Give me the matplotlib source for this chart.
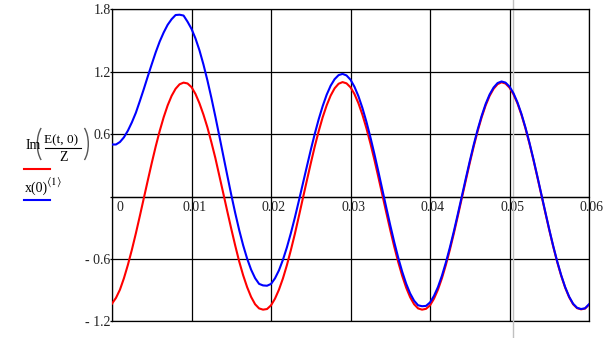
import numpy as np
import matplotlib.pyplot as plt
from matplotlib.lines import Line2D
from matplotlib.patches import Arc
from matplotlib.transforms import ScaledTranslation

plt.rcParams['font.family'] = ['Liberation Serif', 'DejaVu Serif']
plt.rcParams['mathtext.fontset'] = 'stix'

# time axis in seconds, 0.5 ms steps
t = np.linspace(0, 0.06, 121)

# Im(E(t,0)/Z)  (red)
e_im = [-1.03, -0.975, -0.896, -0.786, -0.657, -0.512, -0.355, -0.188, -0.017, 0.154,
        0.322, 0.482, 0.630, 0.762, 0.876, 0.968, 1.036, 1.079, 1.095, 1.087,
        1.052, 0.986, 0.896, 0.788, 0.665, 0.522, 0.370, 0.200, 0.030, -0.142,
        -0.310, -0.472, -0.625, -0.758, -0.872, -0.966, -1.036, -1.076, -1.088, -1.082,
        -1.047, -0.983, -0.896, -0.788, -0.660, -0.515, -0.360, -0.192, -0.020, 0.150,
        0.318, 0.480, 0.628, 0.762, 0.876, 0.970, 1.040, 1.084, 1.100, 1.088,
        1.050, 0.985, 0.896, 0.786, 0.657, 0.512, 0.355, 0.188, 0.017, -0.154,
        -0.322, -0.482, -0.630, -0.762, -0.876, -0.968, -1.036, -1.076, -1.088, -1.080,
        -1.047, -0.983, -0.896, -0.786, -0.657, -0.512, -0.355, -0.188, -0.017, 0.154,
        0.322, 0.482, 0.630, 0.762, 0.876, 0.968, 1.036, 1.080, 1.098, 1.086,
        1.047, 0.983, 0.896, 0.786, 0.657, 0.512, 0.355, 0.188, 0.017, -0.154,
        -0.322, -0.482, -0.630, -0.762, -0.876, -0.968, -1.036, -1.074, -1.085, -1.078,
        -1.040]

# x(0)<1>  (blue)
x01 = [0.50, 0.500, 0.524, 0.569, 0.633, 0.713, 0.805, 0.917, 1.033, 1.154,
       1.272, 1.387, 1.49, 1.577, 1.651, 1.705, 1.745, 1.748, 1.74, 1.681,
       1.612, 1.52, 1.406, 1.27, 1.117, 0.949, 0.769, 0.582, 0.392, 0.203,
       0.017, -0.159, -0.323, -0.47, -0.598, -0.704, -0.785, -0.84, -0.855, -0.858,
       -0.841, -0.787, -0.71, -0.609, -0.489, -0.352, -0.203, -0.043, 0.121, 0.285,
       0.447, 0.601, 0.743, 0.869, 0.978, 1.065, 1.128, 1.167, 1.179, 1.164,
       1.123, 1.055, 0.964, 0.851, 0.719, 0.571, 0.411, 0.242, 0.068, -0.106,
       -0.276, -0.438, -0.588, -0.722, -0.838, -0.932, -1.002, -1.046, -1.055, -1.052,
       -1.019, -0.956, -0.871, -0.762, -0.634, -0.49, -0.335, -0.169, 0.001, 0.172,
       0.339, 0.498, 0.645, 0.776, 0.890, 0.981, 1.048, 1.091, 1.106, 1.095,
       1.057, 0.993, 0.905, 0.795, 0.665, 0.52, 0.362, 0.195, 0.024, -0.147,
       -0.316, -0.476, -0.624, -0.756, -0.871, -0.963, -1.031, -1.07, -1.082, -1.075,
       -1.036]

xticks = [0, 0.01, 0.02, 0.03, 0.04, 0.05, 0.06]
xlabels = ['0', '0.01', '0.02', '0.03', '0.04', '0.05', '0.06']
yticks = [-1.2, -0.6, 0, 0.6, 1.2, 1.8]
ylabels = ['- 1.2', '- 0.6', '', '0.6', '1.2', '1.8']
cursor_t = 0.0504

W, H = 609, 338
fig = plt.figure(figsize=(W / 100, H / 100), dpi=100)
ax = fig.add_axes([112 / W, 1 - 321.3 / H, 477 / W, 312 / H])


def fx(px):
    return px / W


def fy(py):
    return 1 - py / H


ax.plot(t, e_im, color='#ff0000', lw=1.5, zorder=3)
ax.plot(t, x01, color='#0000ff', lw=1.5, zorder=4)
ax.axvline(cursor_t, ymin=-0.06, ymax=1.04, color='#c0c0c0', lw=1,
           clip_on=False, zorder=2.5)

ax.set_xlim(0, 0.06)
ax.set_ylim(-1.2, 1.8)
ax.set_xticks(xticks)
ax.set_xticklabels(xlabels)
ax.set_yticks(yticks)
ax.set_yticklabels(ylabels)
ax.grid(True, color='black', lw=0.9)
ax.set_axisbelow(True)

ax.spines['bottom'].set_position(('data', 0))
for s in ax.spines.values():
    s.set_linewidth(0.9)
ax.axhline(-1.2, color='black', lw=0.9, clip_on=False)

ax.tick_params(axis='x', length=0, pad=3.5, labelsize=10, labelcolor='#222222')
ax.tick_params(axis='y', length=1.5, width=0.9, pad=-0.5, labelsize=10,
               labelcolor='#222222')

# nudge x labels to the right like the original
for i, lab in enumerate(ax.get_xticklabels()):
    dx = 2 / 72
    if i == 0:
        lab.set_ha('left')
        dx = 3 / 72
    lab.set_transform(lab.get_transform() + ScaledTranslation(dx, 0, fig.dpi_scale_trans))

# Mathcad style legend on the left
fig.text(fx(25.3), fy(149), 'Im', fontsize=10, va='baseline', ha='left')
# big brackets around the fraction, drawn in inches so the arc is not squashed
fig.add_artist(Arc((47 / 100, (H - 144) / 100), 0.194, 0.40, theta1=110, theta2=250,
                   transform=fig.dpi_scale_trans, color='#555555', lw=1.0))
fig.add_artist(Arc((78.6 / 100, (H - 144) / 100), 0.194, 0.40, theta1=-70, theta2=70,
                   transform=fig.dpi_scale_trans, color='#555555', lw=1.0))
fig.text(fx(61), fy(143), 'E(t, 0)', fontsize=9.5, va='baseline', ha='center')
fig.add_artist(Line2D([fx(44.7), fx(81.3)], [fy(148.3), fy(148.3)],
                      color='black', lw=0.8))
fig.text(fx(64), fy(161.5), 'Z', fontsize=10, va='baseline', ha='center')
fig.add_artist(Line2D([fx(24), fx(50)], [fy(169), fy(169)],
                      color='#ff0000', lw=1.5))
fig.text(fx(25.3), fy(191.5), 'x(0)', fontsize=10, va='baseline', ha='left')
fig.text(fx(46.3), fy(184.5), r'$\langle 1\rangle$', fontsize=8, va='baseline', ha='left')
fig.add_artist(Line2D([fx(24), fx(50)], [fy(199.5), fy(199.5)],
                      color='#0000ff', lw=1.5))

fig.savefig('out.png', dpi=100)
